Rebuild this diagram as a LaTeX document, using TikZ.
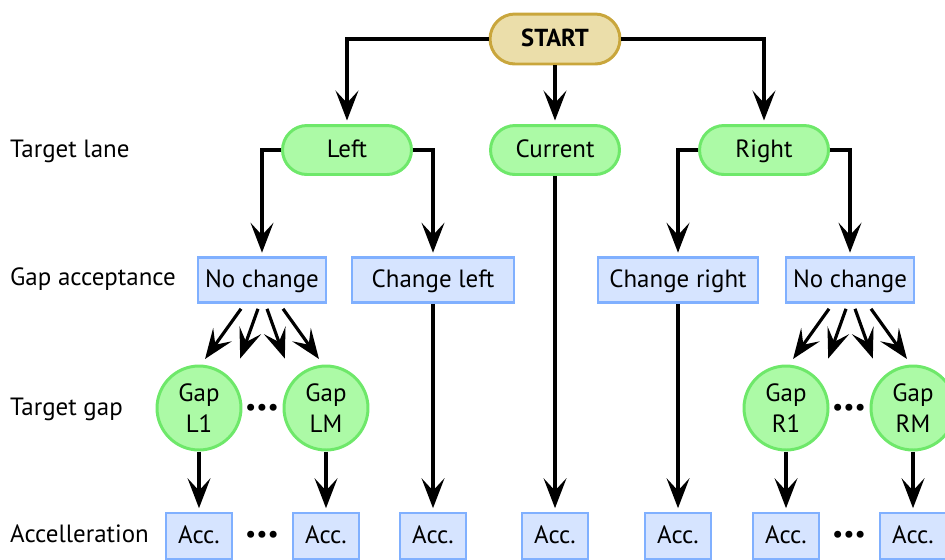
\documentclass[tikz,border=0pt]{standalone}
\usepackage{fontspec}
\setmainfont{PT Sans}
\usetikzlibrary{calc,arrows.meta,positioning}
\definecolor{StartFill}{RGB}{235,222,170}
\definecolor{StartLine}{RGB}{201,166,60}
\definecolor{LaneFill}{RGB}{172,250,166}
\definecolor{LaneLine}{RGB}{110,232,106}
\definecolor{BoxFill}{RGB}{214,228,255}
\definecolor{BoxLine}{RGB}{128,176,255}

\begin{document}
\begin{tikzpicture}[
    x=0.02cm, y=-0.02cm,
    every node/.style={font=\fontsize{14.2}{18}\selectfont},
    startbox/.style={draw=StartLine, fill=StartFill, line width=1.7pt, rounded corners=0.5cm, minimum width=2.6cm, minimum height=1cm, text height=1.8ex, text depth=0pt, font=\fontsize{14}{16}\selectfont\bfseries},
    lane/.style={draw=LaneLine, fill=LaneFill, line width=1.7pt, rounded corners=0.49cm, minimum width=2.58cm, minimum height=0.98cm, text height=1.8ex, text depth=0pt},
    gapbox/.style={draw=BoxLine, fill=BoxFill, line width=1.5pt, minimum height=0.9cm, inner sep=0pt, text height=1.8ex, text depth=0pt},
    gapcirc/.style={circle, draw=LaneLine, fill=LaneFill, line width=1.7pt, minimum size=1.68cm, inner sep=0pt, align=center},
    accbox/.style={draw=BoxLine, fill=BoxFill, line width=1.5pt, minimum width=1.32cm, minimum height=0.92cm, inner sep=0pt, text height=1.8ex, text depth=0pt},
    lbl/.style={anchor=west, text height=1.8ex, text depth=0pt},
    dots/.style={inner sep=0pt},
    arr/.style={-{Stealth[length=17pt, width=13pt, inset=7pt]}, line width=1.8pt, shorten >=2pt}
]
    \useasboundingbox (0,0) rectangle (945,559);

    % row labels
    \node[lbl] (lblLane) at (4,150) {Target lane};
    \node[lbl] (lblAcpt) at (4,278) {Gap acceptance};
    \node[lbl] (lblGap) at (4,408) {Target gap};
    \node[lbl] (lblAcc) at (4,535) {Accelleration};

    % start and target lane
    \node[startbox] (start) at (555,39) {START};
    \node[lane] (left) at (347,150) {Left};
    \node[lane] (current) at (555,150) {Current};
    \node[lane] (right) at (764,150) {Right};

    % gap acceptance
    \node[gapbox, minimum width=2.56cm] (nochL) at (262,280) {No change};
    \node[gapbox, minimum width=3.24cm] (chgL) at (433,280) {Change left};
    \node[gapbox, minimum width=3.2cm] (chgR) at (678,280) {Change right};
    \node[gapbox, minimum width=2.56cm] (nochR) at (850,280) {No change};

    % target gap
    \node[gapcirc] (gapL1) at (199,408) {Gap\\L1};
    \node[gapcirc] (gapLM) at (326,408) {Gap\\LM};
    \node[gapcirc] (gapR1) at (786,408) {Gap\\R1};
    \node[gapcirc] (gapRM) at (913,408) {Gap\\RM};
    \node[dots] (dotsL) at (262,410) {\textbullet\textbullet\textbullet};
    \node[dots] (dotsR) at (849,410) {\textbullet\textbullet\textbullet};

    % acceleration
    \node[accbox] (accL1) at (199,536) {Acc.};
    \node[accbox] (accLM) at (326,536) {Acc.};
    \node[accbox] (accCL) at (433,536) {Acc.};
    \node[accbox] (accC) at (555,536) {Acc.};
    \node[accbox] (accCR) at (678,536) {Acc.};
    \node[accbox] (accR1) at (786,536) {Acc.};
    \node[accbox] (accRM) at (913,536) {Acc.};
    \node[dots] (dotsAL) at (262,537) {\textbullet\textbullet\textbullet};
    \node[dots] (dotsAR) at (849,537) {\textbullet\textbullet\textbullet};

    % connectors
    \draw[arr] (start.west) -| (left.north);
    \draw[arr] (start.east) -| (right.north);
    \draw[arr] (start) -- (current);
    \draw[arr] (left.west) -| (nochL.north);
    \draw[arr] (left.east) -| (chgL.north);
    \draw[arr] (right.west) -| (chgR.north);
    \draw[arr] (right.east) -| (nochR.north);

    \draw[arr] (current) -- (accC);
    \draw[arr] (chgL) -- (accCL);
    \draw[arr] (chgR) -- (accCR);

    \foreach \sx/\ex in {-21/-59, -4/-23, 5/24, 21/59} {
        \draw[arr] ($(nochL.south)+(\sx,5)$) -- ($(nochL.south)+(\ex,58)$);
        \draw[arr] ($(nochR.south)+(\sx,5)$) -- ($(nochR.south)+(\ex,58)$);
    }

    \foreach \g/\a in {gapL1/accL1, gapLM/accLM, gapR1/accR1, gapRM/accRM}
        \draw[arr] (\g) -- (\a);
\end{tikzpicture}
\end{document}
